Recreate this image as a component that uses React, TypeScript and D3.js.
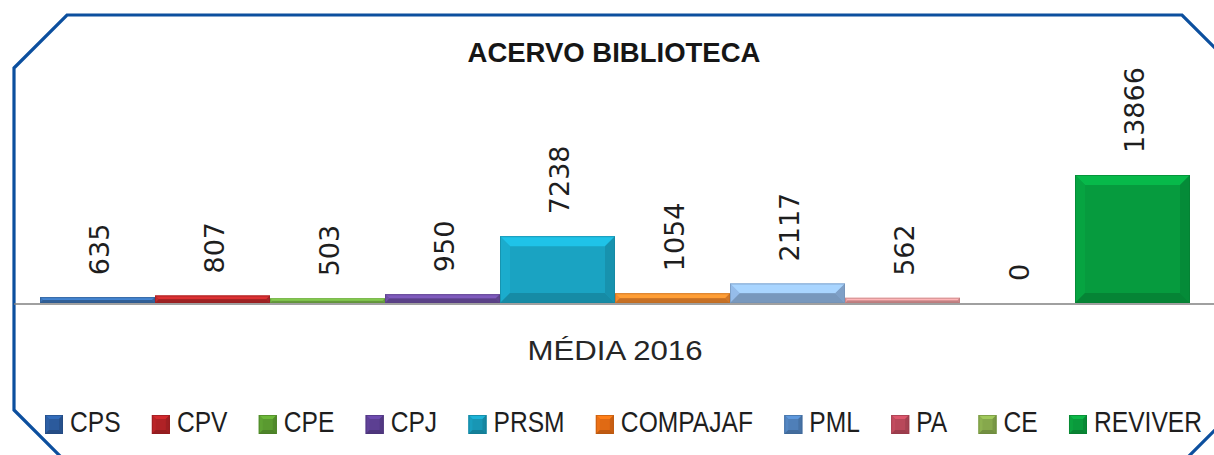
import React, { useEffect, useRef } from "react";
import * as d3 from "d3";

const categories = ["CPS", "CPV", "CPE", "CPJ", "PRSM", "COMPAJAF", "PML", "PA", "CE", "REVIVER"];
const values = [635, 807, 503, 950, 7238, 1054, 2117, 562, 0, 13866];
const colors = ["#3a6fb0", "#b8282a", "#76b446", "#6a4c9e", "#1aa3c2", "#e8842c", "#8db2de", "#e4989a", "#9bbb59", "#069b3e"];
const legendColors = ["#2b5a9c", "#b02226", "#5a9a30", "#5c3f92", "#1896b4", "#e06a14", "#4f7fb8", "#b8485a", "#86a84c", "#0a9a3c"];
const titleText = "ACERVO BIBLIOTECA";
const axisTitle = "MÉDIA 2016";

const W = 1214;
const H = 455;

function bevel(
  g: d3.Selection<SVGGElement, unknown, null, undefined>,
  x0: number, y0: number, x1: number, y1: number, color: string, bmax: number
) {
  const w = x1 - x0;
  const h = y1 - y0;
  if (h <= 0 || w <= 0) return;
  const b = Math.max(0, Math.min(bmax, h / 2, w / 2));
  const c = d3.color(color)!;
  g.append("rect").attr("x", x0).attr("y", y0).attr("width", w).attr("height", h).attr("fill", color);
  const poly = (pts: number[][], fill: string) =>
    g.append("polygon").attr("points", pts.map((p) => p.join(",")).join(" ")).attr("fill", fill);
  poly([[x0, y0], [x1, y0], [x1 - b, y0 + b], [x0 + b, y0 + b]], c.brighter(0.5).formatHex());
  poly([[x0, y0], [x0 + b, y0 + b], [x0 + b, y1 - b], [x0, y1]], c.brighter(0.15).formatHex());
  poly([[x1, y0], [x1, y1], [x1 - b, y1 - b], [x1 - b, y0 + b]], c.darker(0.3).formatHex());
  poly([[x0, y1], [x0 + b, y1 - b], [x1 - b, y1 - b], [x1, y1]], c.darker(0.45).formatHex());
  g.append("rect").attr("x", x0 + 0.5).attr("y", y0 + 0.5).attr("width", w - 1).attr("height", Math.max(0, h - 1))
    .attr("fill", "none").attr("stroke", c.darker(0.6).formatHex()).attr("stroke-width", 1).attr("stroke-opacity", 0.6);
}

export default function App() {
  const ref = useRef<SVGSVGElement | null>(null);

  useEffect(() => {
    const svg = d3.select(ref.current!);
    svg.selectAll("*").remove();

    svg.append("rect").attr("width", W).attr("height", H).attr("fill", "#ffffff");

    // frame (octagon with cut corners)
    const L = 14, R = 1235, T = 15, B = 463, C = 53;
    const frame = [[L, T + C], [L + C, T], [R - C, T], [R, T + C], [R, B - C], [R - C, B], [L + C, B], [L, B - C]];
    svg.append("polygon").attr("points", frame.map((p) => p.join(",")).join(" "))
      .attr("fill", "none").attr("stroke", "#0c4f9e").attr("stroke-width", 3.2);

    const x = d3.scaleBand<string>().domain(categories).range([40, 1190]).paddingInner(0).paddingOuter(0);
    const y = d3.scaleLinear().domain([0, d3.max(values)!]).range([303, 175]);

    // baseline axis
    svg.append("line").attr("x1", L).attr("x2", W).attr("y1", 304).attr("y2", 304)
      .attr("stroke", "#808080").attr("stroke-width", 1.5);

    const bars = svg.append("g");
    categories.forEach((cat, i) => {
      const x0 = x(cat)!;
      const x1 = x0 + x.bandwidth();
      const y0 = y(values[i]);
      const y1 = y(0);
      const g = bars.append("g");
      bevel(g, x0, y0, x1, y1, colors[i], 10);
    });

    // data labels
    const labels = svg.append("g");
    categories.forEach((cat, i) => {
      const cx = x(cat)! + x.bandwidth() / 2 + 2;
      const ty = y(values[i]) - 22;
      labels.append("text")
        .attr("transform", `translate(${cx},${ty}) rotate(-90)`)
        .attr("dy", "0.36em")
        .attr("font-family", "DejaVu Sans, sans-serif")
        .attr("font-size", 27)
        .attr("fill", "#1e1e1e")
        .text(String(values[i]));
    });

    // title
    svg.append("text").attr("x", 614).attr("y", 62).attr("text-anchor", "middle")
      .attr("font-family", "Liberation Sans, Arial, sans-serif").attr("font-weight", "bold")
      .attr("font-size", 27.5).attr("fill", "#161616").text(titleText);

    // axis title
    svg.append("text").attr("x", 615).attr("y", 360).attr("text-anchor", "middle")
      .attr("font-family", "Liberation Sans, Arial, sans-serif")
      .attr("font-size", 28).attr("textLength", 175).attr("lengthAdjust", "spacingAndGlyphs")
      .attr("fill", "#262626").text(axisTitle);

    // legend
    const sx = 0.82;
    const lg = svg.append("g");
    const texts: SVGTextElement[] = [];
    categories.forEach((cat) => {
      const t = lg.append("text")
        .attr("font-family", "Liberation Sans, Arial, sans-serif")
        .attr("font-size", 30).attr("fill", "#1e1e1e").text(cat);
      texts.push(t.node()!);
    });
    const mW = 18, mGap = 7;
    const widths = texts.map((t) => t.getComputedTextLength() * sx);
    const legendLeft = 45, legendRight = 1202;
    const total = widths.reduce((a, w) => a + mW + mGap + w, 0);
    const gap = (legendRight - legendLeft - total) / (categories.length - 1);
    let cx = legendLeft;
    categories.forEach((cat, i) => {
      const mg = lg.append("g");
      bevel(mg, cx, 415, cx + mW, 434, legendColors[i], 4);
      d3.select(texts[i]).attr("transform", `translate(${cx + mW + mGap},432) scale(${sx},1)`);
      cx += mW + mGap + widths[i] + gap;
    });
  }, []);

  return (
    <svg ref={ref} width={W} height={H} style={{ position: "absolute", left: 0, top: 0, display: "block" }} />
  );
}
